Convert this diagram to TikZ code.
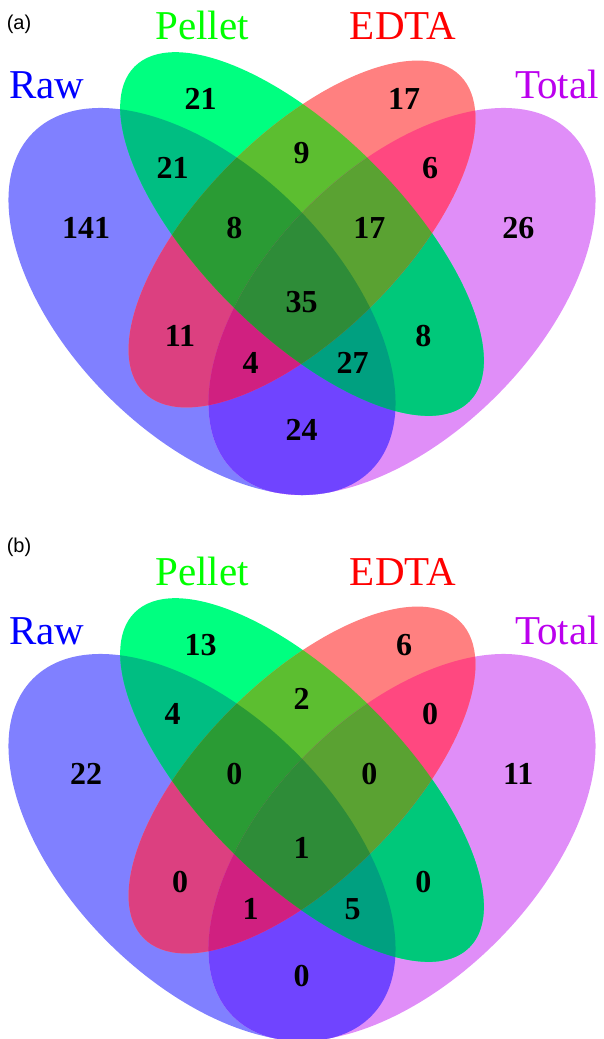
\documentclass[tikz,border=0pt]{standalone}
\usepackage{fontspec}
\setmainfont{Liberation Serif}
\newfontfamily\sansfam{Liberation Sans}
\definecolor{cR}{HTML}{8080FF}
\definecolor{cP}{HTML}{00FF80}
\definecolor{cE}{HTML}{FF8080}
\definecolor{cT}{HTML}{E08EF8}
\definecolor{cRP}{HTML}{00BE82}
\definecolor{cRE}{HTML}{DC4080}
\definecolor{cRT}{HTML}{7044FF}
\definecolor{cPE}{HTML}{5CBE30}
\definecolor{cPT}{HTML}{00C87A}
\definecolor{cET}{HTML}{FF4880}
\definecolor{cRPE}{HTML}{2A9B34}
\definecolor{cRPT}{HTML}{00A080}
\definecolor{cRET}{HTML}{D02080}
\definecolor{cPET}{HTML}{5AA232}
\definecolor{cALL}{HTML}{2E8C38}
\definecolor{labR}{HTML}{0000FF}
\definecolor{labP}{HTML}{00FF00}
\definecolor{labE}{HTML}{FF0000}
\definecolor{labT}{HTML}{BB00EE}
\newcommand\ellR{\pgfpathellipse{\pgfpoint{202pt}{-301.5pt}}{\pgfpoint{168.9pt}{-168.9pt}}{\pgfpoint{94.4pt}{94.4pt}}}
\newcommand\ellT{\pgfpathellipse{\pgfpoint{402pt}{-301.5pt}}{\pgfpoint{168.9pt}{168.9pt}}{\pgfpoint{-94.4pt}{94.4pt}}}
\newcommand\ellP{\pgfpathellipse{\pgfpoint{302pt}{-234pt}}{\pgfpoint{167.4pt}{-167.4pt}}{\pgfpoint{70.85pt}{70.85pt}}}
\newcommand\ellE{\pgfpathellipse{\pgfpoint{302pt}{-234pt}}{\pgfpoint{158.25pt}{158.25pt}}{\pgfpoint{-70.85pt}{70.85pt}}}
\newcommand\clipby[1]{#1\pgfusepath{clip}}
\newcommand\paintreg[3]{\begin{scope}#2\pgfsetfillcolor{#1}#3\pgfusepath{fill}\end{scope}}
\newcommand\vennfills{%
  \paintreg{cR}{}{\ellR}%
  \paintreg{cT}{}{\ellT}%
  \paintreg{cP}{}{\ellP}%
  \paintreg{cE}{}{\ellE}%
  \paintreg{cRP}{\clipby\ellR}{\ellP}%
  \paintreg{cRE}{\clipby\ellR}{\ellE}%
  \paintreg{cRT}{\clipby\ellR}{\ellT}%
  \paintreg{cPE}{\clipby\ellP}{\ellE}%
  \paintreg{cPT}{\clipby\ellP}{\ellT}%
  \paintreg{cET}{\clipby\ellE}{\ellT}%
  \paintreg{cRPE}{\clipby\ellR\clipby\ellP}{\ellE}%
  \paintreg{cRPT}{\clipby\ellR\clipby\ellP}{\ellT}%
  \paintreg{cRET}{\clipby\ellR\clipby\ellE}{\ellT}%
  \paintreg{cPET}{\clipby\ellP\clipby\ellE}{\ellT}%
  \paintreg{cALL}{\clipby\ellR\clipby\ellP\clipby\ellE}{\ellT}%
}
\tikzset{
  setlab/.style={font=\fontsize{41}{41}\selectfont, inner sep=0pt, anchor=base},
  num/.style={font=\fontsize{32}{32}\selectfont\bfseries, inner sep=0pt},
  tag/.style={font=\sansfam\fontsize{20}{20}\selectfont, inner sep=0pt, anchor=base}
}
\begin{document}
\begin{tikzpicture}[x=1pt,y=1pt]
\useasboundingbox (0,0) rectangle (603,-1039);
% ---------- panel (a)
\begin{scope}
  \vennfills
\end{scope}
\node[tag] (taga) at (19,-29) {(a)};
\node[setlab, text=labP] (pelA) at (202,-39) {Pellet};
\node[setlab, text=labE] (edtA) at (403,-39) {EDTA};
\node[setlab, text=labR] (rawA) at (47,-98.3) {Raw};
\node[setlab, text=labT] (totA) at (557,-98.3) {Total};
\node[num] (a1) at (200.7,-99.3) {21};
\node[num] (a2) at (404,-99.3) {17};
\node[num] (a3) at (172.7,-168.3) {21};
\node[num] (a4) at (301.7,-153.3) {9};
\node[num] (a5) at (430,-168.3) {6};
\node[num] (a6) at (86,-228.3) {141};
\node[num] (a7) at (234.3,-228.3) {8};
\node[num] (a8) at (369.3,-228.3) {17};
\node[num] (a9) at (518.3,-228.3) {26};
\node[num] (a10) at (301.7,-301.7) {35};
\node[num] (a11) at (180,-336) {11};
\node[num] (a12) at (423.3,-336) {8};
\node[num] (a13) at (250.7,-363.3) {4};
\node[num] (a14) at (352.7,-363.3) {27};
\node[num] (a15) at (301.7,-430) {24};
% ---------- panel (b)
\begin{scope}[yshift=-546pt]
  \vennfills
\end{scope}
\node[tag] (tagb) at (19,-552) {(b)};
\begin{scope}[yshift=-546pt]
\node[setlab, text=labP] (pelB) at (202,-39) {Pellet};
\node[setlab, text=labE] (edtB) at (403,-39) {EDTA};
\node[setlab, text=labR] (rawB) at (47,-98.3) {Raw};
\node[setlab, text=labT] (totB) at (557,-98.3) {Total};
\node[num] (b1) at (200.7,-99.3) {13};
\node[num] (b2) at (404,-99.3) {6};
\node[num] (b3) at (172.7,-168.3) {4};
\node[num] (b4) at (301.7,-153.3) {2};
\node[num] (b5) at (430,-168.3) {0};
\node[num] (b6) at (86,-228.3) {22};
\node[num] (b7) at (234.3,-228.3) {0};
\node[num] (b8) at (369.3,-228.3) {0};
\node[num] (b9) at (518.3,-228.3) {11};
\node[num] (b10) at (301.7,-301.7) {1};
\node[num] (b11) at (180,-336) {0};
\node[num] (b12) at (423.3,-336) {0};
\node[num] (b13) at (250.7,-363.3) {1};
\node[num] (b14) at (352.7,-363.3) {5};
\node[num] (b15) at (301.7,-430) {0};
\end{scope}
\end{tikzpicture}
\end{document}
